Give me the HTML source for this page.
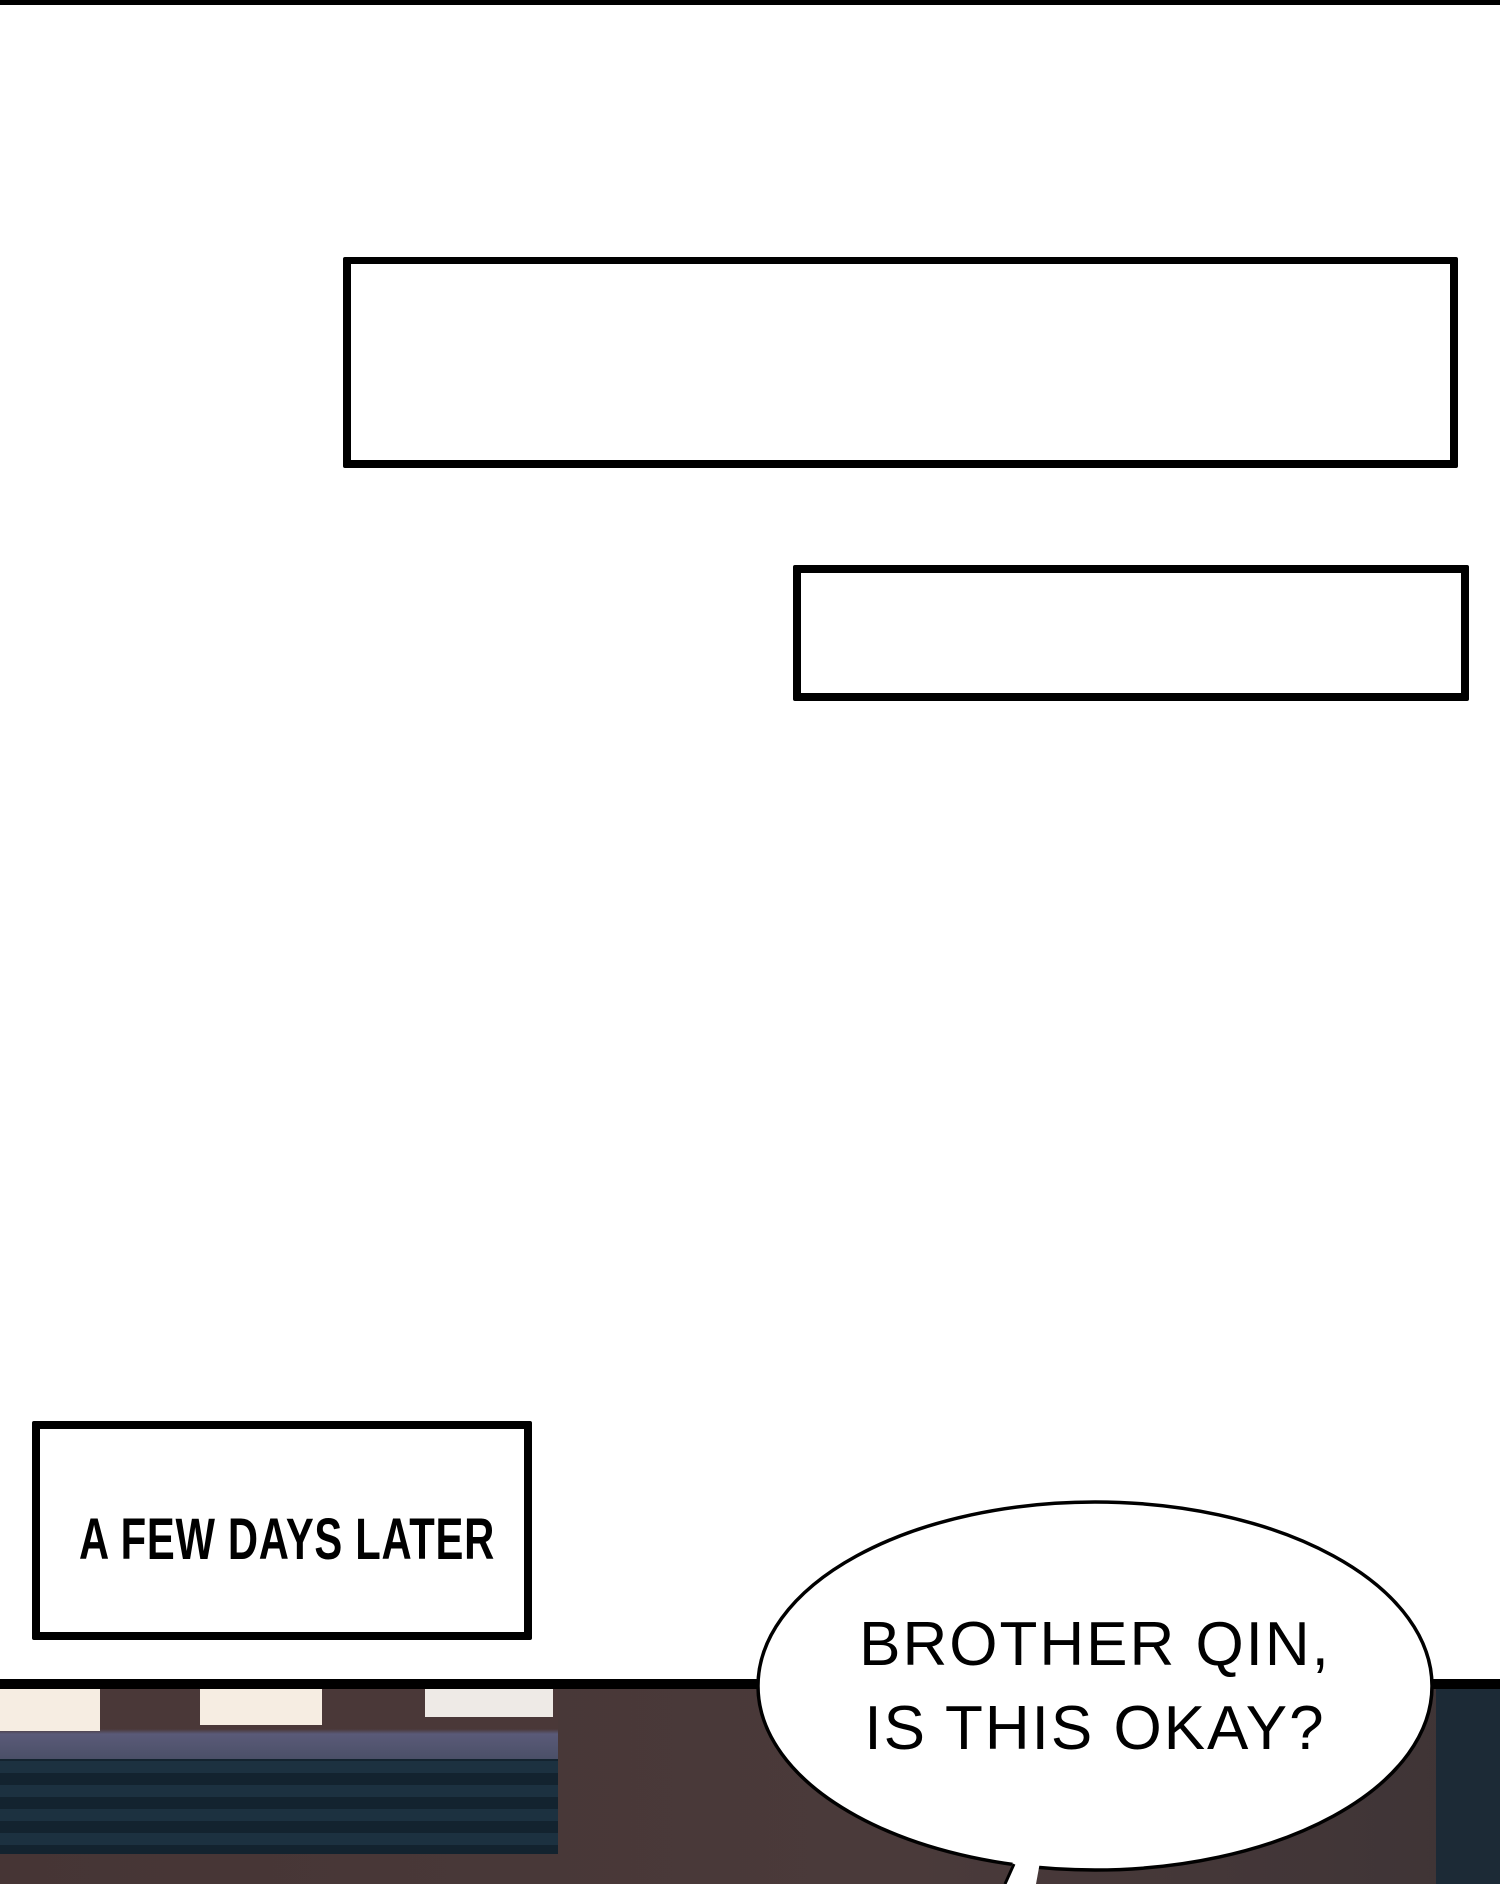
<!DOCTYPE html>
<html><head><style>
body{margin:0;width:1500px;height:1884px;background:#fff;position:relative;overflow:hidden;font-family:"Liberation Sans",sans-serif}
.a{position:absolute}
</style></head><body>
<div class="a" style="left:0;top:0;width:1500px;height:5px;background:#000"></div>
<div class="a" style="left:343px;top:257px;width:1099px;height:196px;border:8px solid #000;border-top-width:7px;border-bottom-width:8px;border-radius:2px"></div>
<div class="a" style="left:793px;top:565px;width:660px;height:120px;border:8px solid #000;border-radius:2px"></div>
<div class="a" style="left:32px;top:1421px;width:484px;height:203px;border:8px solid #000;border-radius:2px"></div>
<div class="a" style="left:79px;top:1505px;width:420px;font-weight:bold;font-size:58px;line-height:70px;transform:scaleX(0.72);transform-origin:left top;white-space:nowrap;letter-spacing:1px">A FEW DAYS LATER</div>
<div class="a" style="left:0;top:1679px;width:1500px;height:10px;background:#000"></div>
<div class="a" style="left:0;top:1689px;width:1500px;height:195px;background:linear-gradient(90deg,#463535,#4a3a3a 60%,#3e3436)"></div>
<div class="a" style="left:0;top:1689px;width:558px;height:165px;background:repeating-linear-gradient(180deg,#1c3140 0,#1c3140 12px,#13232f 12px,#13232f 24px)"></div>
<div class="a" style="left:0;top:1689px;width:558px;height:70px;background:linear-gradient(180deg,#4a3838 0,#4a3838 40px,#5a5a78 45px,#4b5068 70px)"></div>
<div class="a" style="left:0;top:1689px;width:100px;height:42px;background:#f6ede2"></div>
<div class="a" style="left:200px;top:1689px;width:122px;height:36px;background:#f6ede2"></div>
<div class="a" style="left:425px;top:1689px;width:128px;height:28px;background:#eeeae6"></div>
<div class="a" style="left:1436px;top:1689px;width:64px;height:195px;background:#1c2a36"></div>
<svg class="a" style="left:0;top:0" width="1500" height="1884">
<ellipse cx="1095" cy="1686" rx="337" ry="184" fill="#fff" stroke="#000" stroke-width="3.5"/>
<path d="M1005 1884 L1013 1862 L1040 1862 L1036 1884 Z" fill="#fff"/>
<path d="M1005 1884 L1014 1864" stroke="#000" stroke-width="3"/>
</svg>
<div class="a" style="left:745px;top:1603px;width:700px;text-align:center;font-size:62px;line-height:84px;letter-spacing:2px;color:#000;font-family:'Liberation Sans',sans-serif">BROTHER QIN,<br>IS THIS OKAY?</div>
</body></html>
